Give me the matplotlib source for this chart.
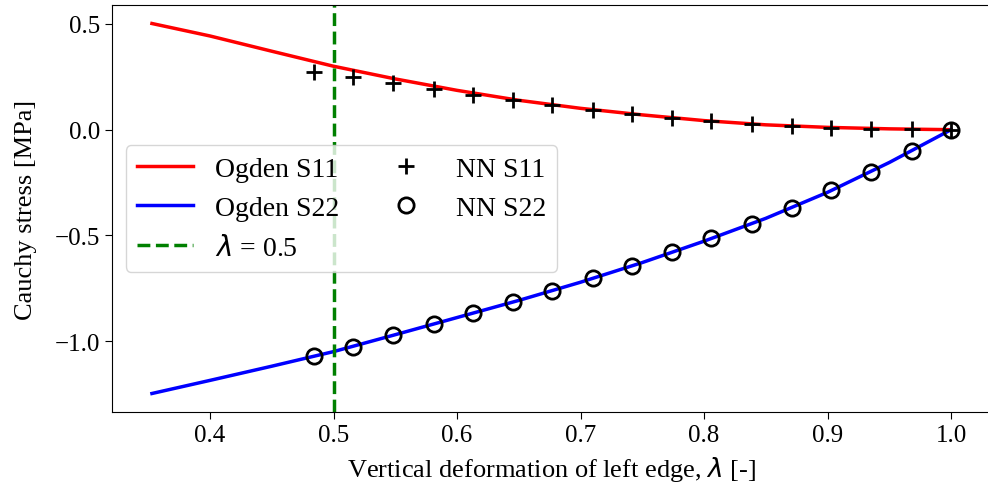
import matplotlib
matplotlib.use("Agg")
import matplotlib.pyplot as plt

plt.rcParams['font.family'] = ['Liberation Serif', 'DejaVu Serif']
plt.rcParams['mathtext.fontset'] = 'dejavusans'
plt.rcParams['font.size'] = 18

# Ogden model curves
lam_ogden = [0.353, 0.40, 0.45, 0.50, 0.55, 0.60, 0.65, 0.70, 0.75, 0.80, 0.85, 0.90, 0.95, 1.00]
ogden_s11 = [0.502, 0.443, 0.371, 0.300, 0.240, 0.186, 0.139, 0.101, 0.070, 0.043, 0.023, 0.011, 0.004, 0.0]
ogden_s22 = [-1.247, -1.185, -1.118, -1.049, -0.969, -0.888, -0.807, -0.721, -0.628, -0.527, -0.419, -0.296, -0.155, 0.0]

# Neural network predictions
lam_nn = [0.484, 0.516, 0.548, 0.581, 0.613, 0.645, 0.677, 0.710, 0.742,
          0.774, 0.806, 0.839, 0.871, 0.903, 0.935, 0.968, 1.000]
nn_s11 = [0.275, 0.249, 0.220, 0.192, 0.165, 0.141, 0.116, 0.094, 0.074,
          0.056, 0.039, 0.025, 0.016, 0.010, 0.005, 0.002, 0.0]
nn_s22 = [-1.072, -1.025, -0.972, -0.919, -0.867, -0.815, -0.761, -0.703, -0.643,
          -0.580, -0.514, -0.444, -0.370, -0.287, -0.200, -0.102, 0.0]

lam_ref = 0.5

fig = plt.figure(figsize=(9.88, 5.02), dpi=100)
ax = fig.add_axes([112 / 988, 89 / 502, (991 - 112) / 988, (413 - 6) / 502])

ax.plot(lam_ogden, ogden_s11, color='red', lw=2.5, label='Ogden S11')
ax.plot(lam_ogden, ogden_s22, color='blue', lw=2.5, label='Ogden S22')
ax.axvline(lam_ref, color='green', ls='--', lw=2.5, label=r'$\lambda$ = 0.5')
ax.plot(lam_nn, nn_s11, ls='none', marker='+', color='black', ms=11, mew=2, label='NN S11')
ax.plot(lam_nn, nn_s22, ls='none', marker='o', mfc='none', mec='black', ms=11, mew=2, label='NN S22')

ax.set_xticks([0.4, 0.5, 0.6, 0.7, 0.8, 0.9, 1.0])
ax.set_yticks([-1.0, -0.5, 0.0, 0.5])
ax.tick_params(labelsize=18, length=5)
ax.set_xlabel(r'Vertical deformation of left edge, $\lambda$ [-]', fontsize=19, labelpad=6)
ax.set_ylabel('Cauchy stress [MPa]', fontsize=19, labelpad=13)

ax.legend(loc='center left', ncol=2, fontsize=20, borderaxespad=0.5, columnspacing=1.4)

fig.savefig('out.png', dpi=100)
